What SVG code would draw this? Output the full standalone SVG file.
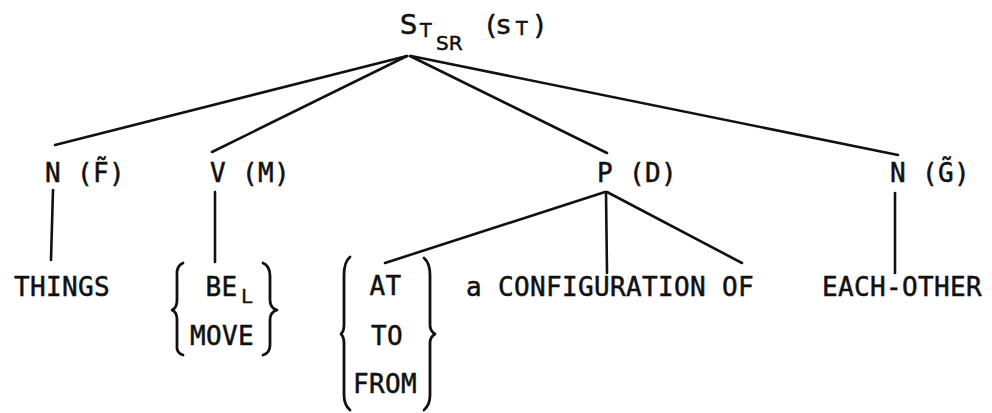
<svg xmlns="http://www.w3.org/2000/svg" width="992" height="413" viewBox="0 0 992 413">
<style>
  .t { font-family: "DejaVu Sans Mono", "Liberation Mono", monospace; font-size: 26px; letter-spacing: 0.35px; fill: #111; stroke: #111; stroke-width: 0.5px; }
  .top { font-family: "DejaVu Sans", "Liberation Sans", sans-serif; fill: #111; stroke: #111; stroke-width: 0.5px; }
  .sub { font-family: "DejaVu Sans Mono", "Liberation Mono", monospace; font-size: 20px; fill: #111; stroke: #111; stroke-width: 0.4px; }
  .edge { stroke: #111; stroke-width: 2.6; stroke-linecap: round; fill: none; }
  .brace { stroke: #111; stroke-width: 2.8; stroke-linecap: round; stroke-linejoin: round; fill: none; }
</style>
<rect width="992" height="413" fill="#fff"/>

<g id="connectors">
  <line class="edge" x1="407" y1="56" x2="55" y2="145"/>
  <line class="edge" x1="407" y1="56" x2="212" y2="152"/>
  <line class="edge" x1="410" y1="56" x2="607" y2="153"/>
  <line class="edge" x1="411" y1="56" x2="898" y2="155"/>
  <line class="edge" x1="53" y1="190" x2="51" y2="260"/>
  <line class="edge" x1="215" y1="192" x2="215" y2="262"/>
  <line class="edge" x1="605" y1="192" x2="385" y2="263"/>
  <line class="edge" x1="606" y1="192" x2="607" y2="273"/>
  <line class="edge" x1="607" y1="192" x2="742" y2="263"/>
  <line class="edge" x1="895" y1="193" x2="895" y2="273"/>
</g>

<g id="root">
  <text class="top" x="400" y="34" font-size="27">S</text>
  <text class="top" x="420" y="37" font-size="19">T</text>
  <text class="top" x="436" y="50" font-size="20">SR</text>
  <text class="top" x="486" y="34" font-size="27">(s</text>
  <text class="top" x="516" y="35" font-size="19">T</text>
  <text class="top" x="534" y="34" font-size="27">)</text>
</g>

<g id="n-f">
  <text class="t" x="45" y="182">N (F&#x303;)</text>
</g>
<g id="v-m">
  <text class="t" x="210" y="182">V (M)</text>
</g>
<g id="p-d">
  <text class="t" x="597" y="182">P (D)</text>
</g>
<g id="n-g">
  <text class="t" x="890" y="182">N (G&#x303;)</text>
</g>

<g id="things">
  <text class="t" x="14" y="296">THINGS</text>
</g>

<g id="be-move">
  <path class="brace" d="M183,263 Q176,266 177,276 L177,300 Q177,308 172,310 Q177,312 177,320 L177,345 Q176,353 183,355"/>
  <text class="t" x="205.5" y="296">BE</text>
  <text class="sub" x="241" y="303">L</text>
  <text class="t" x="190" y="345">MOVE</text>
  <path class="brace" d="M263,263 Q270,266 270,276 L270,300 Q270,308 277,310 Q270,312 270,320 L270,345 Q270,353 263,355"/>
</g>

<g id="at-to-from">
  <path class="brace" d="M350,257 Q344,262 344,275 L344,325 Q344,331 341,334 Q344,337 344,343 L344,395 Q344,405 350,410"/>
  <text class="t" x="369.5" y="295">AT</text>
  <text class="t" x="371" y="345">TO</text>
  <text class="t" x="353" y="393">FROM</text>
  <path class="brace" d="M424,258 Q430,263 430,275 L430,325 Q430,331 435,334 Q430,337 430,343 L430,395 Q430,405 424,410"/>
</g>

<g id="configuration">
  <text class="t" x="466" y="296">a CONFIGURATION OF</text>
</g>

<g id="each-other">
  <text class="t" x="822" y="296">EACH-OTHER</text>
</g>
</svg>
